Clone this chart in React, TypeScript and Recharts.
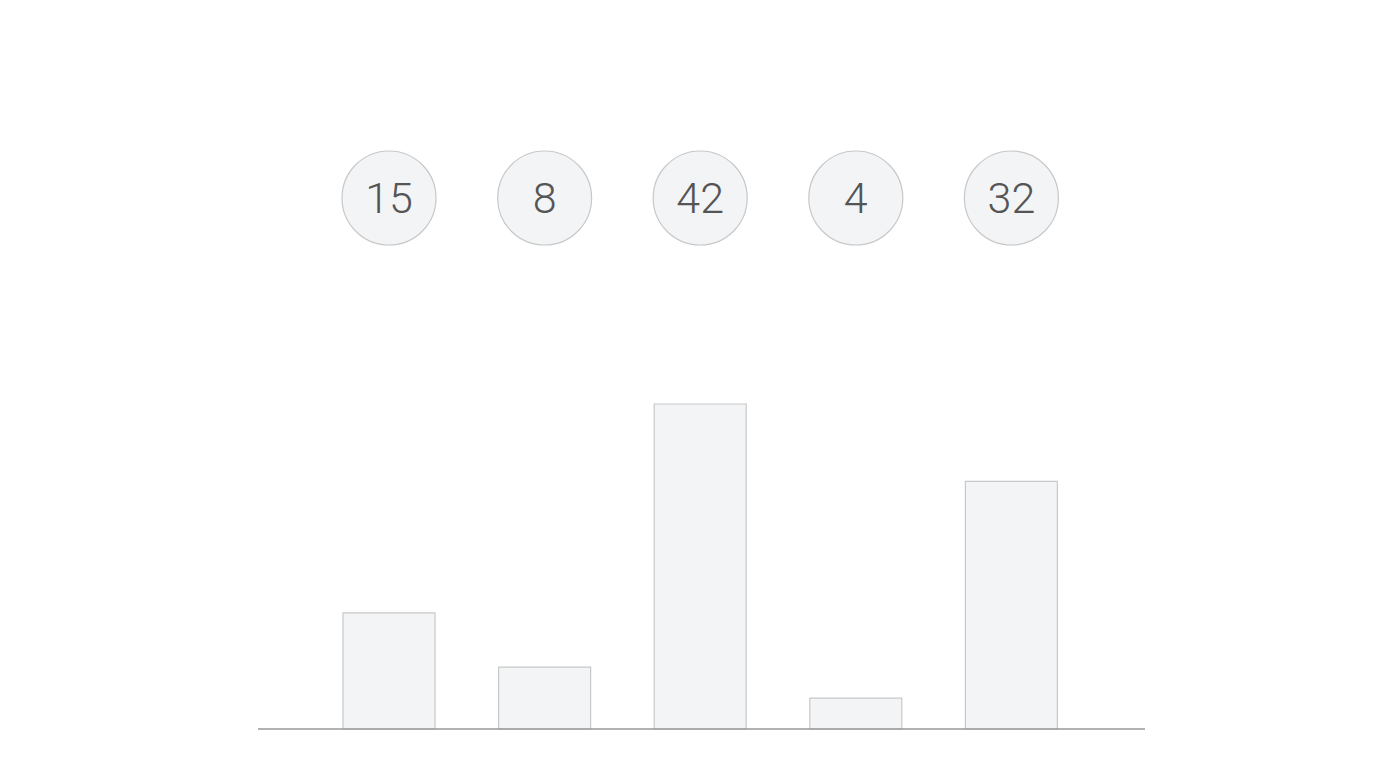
import { Bar, BarChart, LabelList, XAxis, YAxis } from "recharts";

const categories = ["A", "B", "C", "D", "E"];
const values = [15, 8, 42, 4, 32];

const chartData = categories.map((name, i) => ({ name, value: values[i] }));

// badge row sits a fixed distance above the plot area
const BADGE_Y = 190;
const BADGE_R = 47;

const Badge = (props: any) => {
  const { x, width, value } = props;
  const cx = Number(x) + Number(width) / 2;
  return (
    <g>
      <circle cx={cx} cy={BADGE_Y} r={BADGE_R} fill="#f3f4f6" stroke="#c8c8c8" strokeWidth={1.2} />
      <text
        x={cx}
        y={BADGE_Y}
        dy={15}
        textAnchor="middle"
        fontFamily="Roboto, 'Liberation Sans', sans-serif"
        fontWeight={300}
        fontSize={43}
        fill="#555555"
      >
        {value}
      </text>
    </g>
  );
};

export default function App() {
  return (
    <div style={{ width: 1384, height: 761 }}>
      <BarChart
        width={1384}
        height={761}
        data={chartData}
        margin={{ top: 396, right: 247, bottom: 10, left: 250 }}
      >
        <XAxis
          dataKey="name"
          tick={false}
          tickLine={false}
          axisLine={{ stroke: "#999999", strokeWidth: 1.5 }}
          padding={{ left: 53, right: 56 }}
          height={30}
        />
        <YAxis hide domain={[0, 42]} />
        <Bar
          dataKey="value"
          barSize={92}
          fill="#f3f4f6"
          stroke="#c8c8c8"
          strokeWidth={1.2}
          isAnimationActive={false}
        >
          <LabelList dataKey="value" content={<Badge />} />
        </Bar>
      </BarChart>
    </div>
  );
}
